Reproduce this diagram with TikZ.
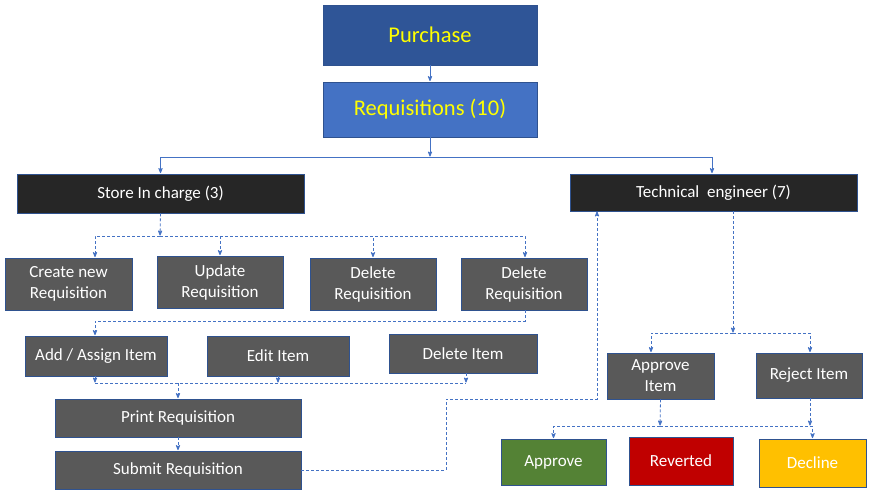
\documentclass[tikz,border=0pt]{standalone}
\usepackage{fontspec}
\setmainfont{Carlito}
\usetikzlibrary{arrows}
\definecolor{topblue}{HTML}{2F5597}
\definecolor{midblue}{HTML}{4472C4}
\definecolor{edgeblue}{HTML}{2F528F}
\definecolor{darkbox}{HTML}{262626}
\definecolor{greybox}{HTML}{595959}
\definecolor{okgreen}{HTML}{548235}
\definecolor{badred}{HTML}{C00000}
\definecolor{warnyellow}{HTML}{FFC000}
\definecolor{textyellow}{HTML}{FFFF00}

\begin{document}
\begin{tikzpicture}[x=1pt,y=-1pt,>=stealth',semithick,
                    box/.style={draw=edgeblue,line width=0.8pt,text=white,align=center,
                                inner sep=0pt,font=\fontsize{17}{21}\selectfont},
                    head/.style={box,text=textyellow,font=\fontsize{22.5}{26}\selectfont},
                    link/.style={->,draw=midblue,line width=0.8pt,shorten >=0.5pt},
                    dlink/.style={link,dashed,dash pattern=on 3pt off 2pt}]
  \useasboundingbox (0,0) rectangle (890,499);

  \node[head,fill=topblue,minimum width=214,minimum height=60]  (purchase) at (430,35)    {Purchase};
  \node[head,fill=midblue,minimum width=214,minimum height=55]  (reqs)     at (430,109.5) {Requisitions (10)};

  \node[box,fill=darkbox,minimum width=287,minimum height=39]   (store)    at (160.5,193.5) {Store In charge (3)};
  \node[box,fill=darkbox,minimum width=287,minimum height=37]   (tech)     at (713.5,192.5) {Technical\ \ engineer (7)};

  \node[box,fill=greybox,minimum width=127,minimum height=52]   (create)   at (68.5,284) {Create new\\Requisition};
  \node[box,fill=greybox,minimum width=126,minimum height=52]   (update)   at (220,282)  {Update\\Requisition};
  \node[box,fill=greybox,minimum width=126,minimum height=52]   (delreqa)  at (373,284)  {Delete\\Requisition};
  \node[box,fill=greybox,minimum width=126,minimum height=52]   (delreqb)  at (524,284)  {Delete\\Requisition};

  \node[box,fill=greybox,minimum width=142,minimum height=40]   (additem)  at (96,356)   {Add / Assign Item};
  \node[box,fill=greybox,minimum width=142,minimum height=40]   (edititem) at (278,356)  {Edit Item};
  \node[box,fill=greybox,minimum width=148,minimum height=39]   (delitem)  at (463,353.5) {Delete Item};

  \node[box,fill=greybox,minimum width=246,minimum height=38]   (print)    at (178,418)  {Print Requisition};
  \node[box,fill=greybox,minimum width=246,minimum height=38]   (submit)   at (178,470)  {Submit Requisition};

  \node[box,fill=greybox,minimum width=107,minimum height=46]   (appitem)  at (660.5,376) {Approve\\Item};
  \node[box,fill=greybox,minimum width=106,minimum height=45]   (rejitem)  at (809,375.5) {Reject Item};

  \node[box,fill=okgreen,minimum width=105,minimum height=46]   (approve)  at (553.5,462) {Approve};
  \node[box,fill=badred,minimum width=104,minimum height=48]    (reverted) at (681,461)   {Reverted};
  \node[box,fill=warnyellow,minimum width=107,minimum height=48] (decline) at (812.5,463) {Decline};

  % junction points
  \coordinate (jreq)   at (430,157);
  \coordinate (jstore) at (160,236);
  \coordinate (jdel)   at (525,321);
  \coordinate (jadd)   at (95,383);
  \coordinate (jedit)  at (278,383);
  \coordinate (jdelit) at (466,383);
  \coordinate (jprint) at (178,383);
  \coordinate (jsub)   at (446,399);
  \coordinate (tin)    at (597,211);
  \coordinate (jtech)  at (733,333);
  \coordinate (japp)   at (660,426);
  \coordinate (jrej)   at (810,426);

  \path (purchase) edge[link] (reqs)
        (reqs)     edge[link] (jreq);
  \draw[link] (jreq) -| (store.north);
  \draw[link] (jreq) -| ([xshift=-1.5pt]tech.north);

  \draw[dlink] (store.south) -- (jstore);
  \draw[dlink] (jstore) -| ([xshift=26.5pt]create.north);
  \draw[dlink] (jstore) -| (update.north);
  \draw[dlink] (jstore) -| (delreqa.north);
  \draw[dlink] (jstore) -| ([xshift=1pt]delreqb.north);

  \draw[dlink] ([xshift=1pt]delreqb.south) -- (jdel) -| ([xshift=-1pt]additem.north);

  \path ([xshift=-1pt]additem.south) edge[dlink] (jadd)
        (edititem.south)             edge[dlink] (jedit)
        ([xshift=3pt]delitem.south)  edge[dlink] (jdelit);
  \draw[draw=midblue,line width=0.8pt,dashed,dash pattern=on 3pt off 2pt] (jadd) -- (jdelit);
  \path (jprint) edge[dlink] (print)
        (print)  edge[dlink] (submit);

  \draw[dlink] (submit.east) -| (jsub) -| (tin);

  \draw[dlink] ([xshift=19.5pt]tech.south) -- (jtech);
  \draw[dlink] (jtech) -| ([xshift=-9.5pt]appitem.north);
  \draw[dlink] (jtech) -| ([xshift=1pt]rejitem.north);

  \path (appitem.south) edge[dlink] (japp)
        ([xshift=1pt]rejitem.south) edge[dlink] (jrej);
  \draw[dlink] (japp) -| (approve.north);
  \draw[dlink] (japp) -| (decline.north);
\end{tikzpicture}
\end{document}
